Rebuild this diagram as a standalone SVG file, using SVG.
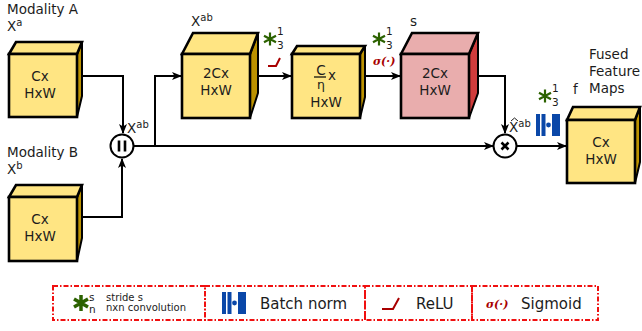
<svg xmlns="http://www.w3.org/2000/svg" width="642" height="331" viewBox="0 0 642 331">
<style>
text{font-family:"DejaVu Sans",sans-serif;font-size:13.500px;fill:#1c1c1c}
.c{text-anchor:middle}
.sup{font-size:10px}
.f{fill:#ffe583;stroke:#000;stroke-width:2.600;stroke-linejoin:miter}
.s{fill:#bc9200;stroke:#000;stroke-width:2;stroke-linejoin:round}
.pf{fill:#e9adad;stroke:#000;stroke-width:2.600}
.ps{fill:#d03c3c;stroke:#000;stroke-width:2}
.a{fill:none;stroke:#000;stroke-width:2;marker-end:url(#ah)}
.leg{fill:none;stroke:#f01010;stroke-width:2;stroke-dasharray:5 2 1.500 2}
.star{stroke:#2c6200;stroke-width:2.200;fill:none}
.bn{fill:#0a47a8}
.red{fill:none;stroke:#a80000;stroke-width:2}
.sig{fill:#a80000;font-family:"DejaVu Serif",serif;font-weight:bold;font-style:italic;font-size:11px}
.n{font-size:10.500px}
.big{font-size:15px}
.small{font-size:10px}
.eta{font-size:12.500px}
</style>
<defs>
<marker id="ah" viewBox="0 0 10 8" refX="9" refY="4" markerUnits="userSpaceOnUse" markerWidth="10" markerHeight="8" orient="auto"><path d="M0 0L10 4L0 8L2.500 4Z" fill="#000"/></marker>
<g id="st"><path class="star" d="M0-6.500V6.500M-6-3.200L6 3.200M-6 3.200L6-3.200"/></g>
<g id="bnorm"><rect class="bn" x="0" y="0" width="4" height="22"/><rect class="bn" x="5.500" y="0" width="4" height="22"/><rect class="bn" x="16" y="0" width="8" height="22"/><circle class="bn" cx="12.500" cy="11" r="2.400"/></g>
</defs>

<g id="connectors">
<path class="a" d="M82 76H123V133"/>
<path class="a" d="M82 217H122V159"/>
<path class="a" d="M134 146H493"/>
<path class="a" d="M155 146V76H181"/>
<path class="a" d="M250 76H291"/>
<path class="a" d="M365 76H400"/>
<path class="a" d="M478 76H505V133"/>
<path class="a" d="M517 146H566"/>
</g>

<g id="node-a">
<path class="s" d="M77 54L82 42V96L77 117Z"/><path class="f" d="M9 54L16 42H82L77 54Z"/><rect class="f" x="9" y="54" width="68" height="63"/>
<text class="c" x="40" y="81">Cx</text><text class="c" x="40" y="98">HxW</text>
<text x="7" y="14">Modality A</text><text x="7" y="31">X<tspan class="sup" dy="-5">a</tspan></text>
</g>
<g id="node-b">
<path class="s" d="M77 197L82 185V238L77 261Z"/><path class="f" d="M9 197L16 185H82L77 197Z"/><rect class="f" x="9" y="197" width="68" height="64"/>
<text class="c" x="40" y="224">Cx</text><text class="c" x="40" y="241">HxW</text>
<text x="7" y="157">Modality B</text><text x="7" y="174">X<tspan class="sup" dy="-5">b</tspan></text>
</g>
<g id="node-concat">
<circle cx="122" cy="146" r="11.500" fill="#fff" stroke="#000" stroke-width="2"/>
<path d="M119 140.500V151.500M125 140.500V151.500" stroke="#000" stroke-width="2.600" fill="none"/>
<text x="127" y="133">X<tspan class="sup" dy="-5">ab</tspan></text>
</g>
<g id="node-2c">
<path class="s" d="M250 54L258 33V93L250 118Z"/><path class="f" d="M182 54L193 33H258L250 54Z"/><rect class="f" x="182" y="54" width="68" height="64"/>
<text class="c" x="216" y="78">2Cx</text><text class="c" x="216" y="95">HxW</text>
<text x="191" y="26">X<tspan class="sup" dy="-5">ab</tspan></text>
<use href="#st" x="270" y="39"/><text class="n" x="277" y="35">1</text><text class="n" x="277" y="49">3</text>
<path class="red" d="M268 66H276L280 58"/>
</g>
<g id="node-ceta">
<path class="s" d="M360 54L365 46V97L360 118Z"/><path class="f" d="M292 54L297 46H365L360 54Z"/><rect class="f" x="292" y="54" width="68" height="64"/>
<text class="c" x="321" y="75">C</text><path d="M314 77H326" stroke="#000" stroke-width="1.200"/><text x="328" y="80">x</text><text class="c eta" x="321" y="89">η</text><text class="c" x="326" y="107">HxW</text>
<use href="#st" x="379" y="39"/><text class="n" x="386" y="35">1</text><text class="n" x="386" y="49">3</text>
<text class="sig" x="373" y="65">σ(·)</text>
</g>
<g id="node-s">
<path class="ps" d="M469 54L478 33V93L469 118Z"/><path class="pf" d="M401 54L412 33H478L469 54Z"/><rect class="pf" x="401" y="54" width="68" height="64"/>
<text class="c" x="435" y="78">2Cx</text><text class="c" x="435" y="95">HxW</text>
<text x="410" y="26">s</text>
</g>
<g id="node-mul">
<circle cx="505" cy="146" r="11.500" fill="#fff" stroke="#000" stroke-width="2"/>
<path d="M501.500 142.500L508.500 149.500M508.500 142.500L501.500 149.500" stroke="#000" stroke-width="2.600" fill="none"/>
<text x="509" y="132">X<tspan class="sup" dy="-5">ab</tspan></text>
<path d="M511 121L514.500 118L518 121" fill="none" stroke="#1c1c1c" stroke-width="1"/>
<use href="#st" x="545" y="96"/><text class="n" x="552" y="92">1</text><text class="n" x="552" y="106">3</text>
<use href="#bnorm" x="536" y="114"/>
</g>
<g id="node-f">
<path class="s" d="M635 120L640 107V162L635 183Z"/><path class="f" d="M567 120L573 107H640L635 120Z"/><rect class="f" x="567" y="120" width="68" height="63"/>
<text class="c" x="601" y="147">Cx</text><text class="c" x="601" y="164">HxW</text>
<text x="573" y="94">f</text>
<text x="589" y="59">Fused</text><text x="589" y="76">Feature</text><text x="589" y="93">Maps</text>
</g>
<g id="legend">
<rect class="leg" x="53" y="286" width="152" height="34"/>
<rect class="leg" x="205" y="286" width="160" height="34"/>
<rect class="leg" x="365" y="286" width="107" height="34"/>
<rect class="leg" x="472" y="286" width="126" height="34"/>
<g transform="translate(81 303)"><path class="star" d="M0-8V8M-7-4L7 4M-7 4L7-4" style="stroke-width:3.500"/></g>
<text class="n" x="89" y="301">s</text><text class="n" x="89" y="313">n</text>
<text class="small" x="106" y="301">stride s</text><text class="small" x="106" y="311">nxn convolution</text>
<use href="#bnorm" x="222" y="292"/>
<text class="big" x="260" y="309">Batch norm</text>
<path class="red" d="M382 309H393L399 298"/>
<text class="big" x="416" y="309">ReLU</text>
<text class="sig" x="486" y="308">σ(·)</text>
<text class="big" x="521" y="309">Sigmoid</text>
</g>
</svg>
